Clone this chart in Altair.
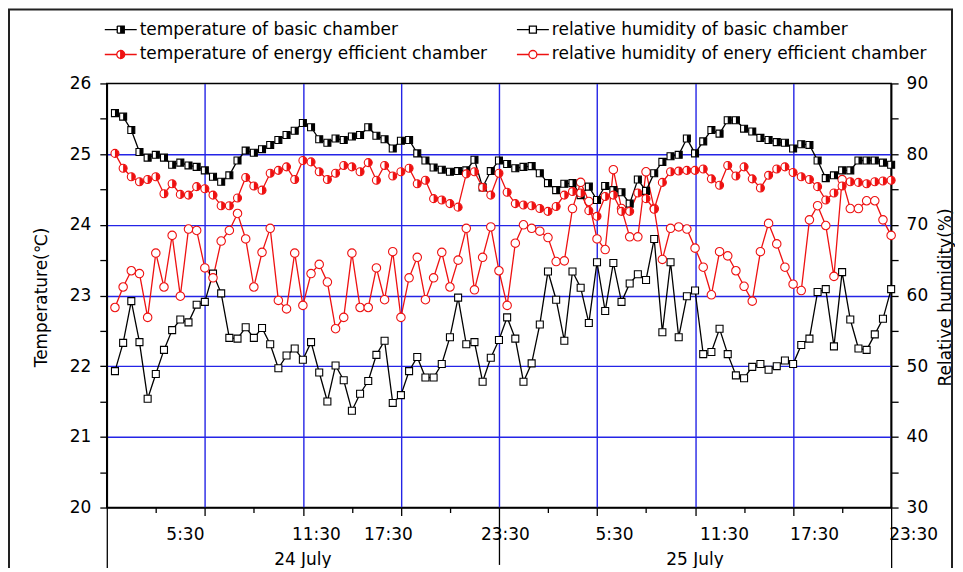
import math
import altair as alt
import pandas as pd

# ---------------- data ----------------
hours = [0.5 * i for i in range(96)]  # 0:00 24 July ... 23:30 25 July, every 30 min

temp_basic = [
    25.58, 25.53, 25.34, 25.03, 24.95, 24.99, 24.95, 24.85, 24.88, 24.84,
    24.82, 24.77, 24.68, 24.61, 24.70, 24.91, 25.05, 25.02, 25.07, 25.13,
    25.20, 25.27, 25.33, 25.44, 25.38, 25.21, 25.16, 25.22, 25.20, 25.25,
    25.27, 25.38, 25.26, 25.21, 25.08, 25.19, 25.20, 25.01, 24.91, 24.81,
    24.78, 24.75, 24.76, 24.77, 24.92, 24.53, 24.76, 24.91, 24.86, 24.80,
    24.82, 24.83, 24.73, 24.59, 24.49, 24.58, 24.59, 24.42, 24.54, 24.35,
    24.55, 24.49, 24.46, 24.30, 24.64, 24.48, 24.73, 24.89, 24.97, 24.99,
    25.22, 25.01, 25.18, 25.34, 25.29, 25.48, 25.48, 25.36, 25.32, 25.23,
    25.20, 25.17, 25.16, 25.08, 25.14, 25.13, 24.91, 24.66, 24.70, 24.77,
    24.77, 24.91, 24.91, 24.91, 24.88, 24.85,
]
temp_eff = [
    25.01, 24.80, 24.68, 24.61, 24.64, 24.68, 24.44, 24.58, 24.43, 24.42,
    24.54, 24.51, 24.42, 24.27, 24.27, 24.38, 24.67, 24.55, 24.49, 24.73,
    24.77, 24.82, 24.64, 24.91, 24.89, 24.75, 24.64, 24.73, 24.84, 24.82,
    24.75, 24.88, 24.63, 24.84, 24.69, 24.75, 24.80, 24.58, 24.63, 24.37,
    24.35, 24.30, 24.25, 24.72, 24.75, 24.53, 24.42, 24.73, 24.46, 24.30,
    24.28, 24.27, 24.23, 24.19, 24.26, 24.42, 24.47, 24.45, 24.20, 24.12,
    24.40, 24.42, 24.19, 24.19, 24.45, 24.37, 24.22, 24.60, 24.75, 24.76,
    24.77, 24.77, 24.79, 24.65, 24.56, 24.84, 24.69, 24.82, 24.65, 24.52,
    24.70, 24.79, 24.82, 24.74, 24.68, 24.64, 24.54, 24.35, 24.45, 24.55,
    24.61, 24.60, 24.58, 24.61, 24.62, 24.63,
]
rh_basic = [
    49.3, 53.3, 59.2, 53.4, 45.4, 48.9, 52.3, 55.1, 56.6, 56.2,
    58.7, 59.1, 63.1, 60.3, 54.0, 53.9, 55.5, 54.0, 55.4, 53.1,
    49.7, 51.5, 52.5, 50.9, 53.4, 49.1, 45.0, 50.1, 48.0, 43.7,
    46.1, 47.9, 51.6, 53.6, 44.8, 45.9, 49.3, 51.3, 48.4, 48.4,
    50.3, 54.1, 59.7, 53.1, 53.4, 47.8, 51.2, 53.7, 56.9, 53.9,
    47.8, 50.4, 55.9, 63.4, 59.4, 53.6, 63.4, 61.1, 56.1, 64.7,
    57.8, 64.6, 59.1, 61.7, 63.0, 62.2, 68.0, 54.8, 64.7, 54.1,
    59.9, 60.7, 51.7, 52.0, 55.3, 51.7, 48.7, 48.3, 49.9, 50.3,
    49.5, 50.0, 50.8, 50.3, 53.0, 53.9, 60.5, 60.9, 52.8, 63.3,
    56.6, 52.5, 52.3, 54.5, 56.7, 60.9,
]
rh_eff = [
    58.3, 61.2, 63.5, 63.1, 56.9, 66.0, 61.2, 68.5, 59.9, 69.4,
    69.2, 63.9, 62.5, 67.7, 69.2, 71.6, 68.0, 61.2, 66.1, 69.5,
    59.3, 58.1, 66.0, 58.6, 63.1, 64.4, 61.9, 55.3, 56.9, 66.0,
    58.3, 58.3, 63.9, 59.4, 66.2, 56.9, 62.5, 65.4, 59.4, 62.5,
    66.1, 61.2, 65.0, 69.5, 60.8, 65.4, 69.7, 63.5, 58.6, 67.4,
    70.0, 69.5, 69.1, 68.2, 64.8, 64.9, 72.3, 76.0, 73.3, 68.0,
    66.5, 77.8, 72.3, 68.3, 68.3, 77.5, 72.3, 65.1, 69.5, 69.7,
    69.4, 66.7, 64.0, 60.1, 66.2, 65.6, 63.5, 61.3, 59.2, 66.2,
    70.2, 67.3, 64.0, 61.6, 60.7, 70.7, 72.7, 69.9, 62.7, 76.4,
    72.3, 72.3, 73.4, 73.4, 70.7, 68.5,
]
for s in (temp_basic, temp_eff, rh_basic, rh_eff):
    assert len(s) == len(hours)

# legend order (column-major in a 2-column legend)
series_names = [
    "temperature of basic chamber",
    "temperature of energy efficient chamber",
    "relative humidity of basic chamber",
    "relative humidity of enery efficient chamber",
]
x_tick_hours = [5.5, 11.5, 17.5, 23.5, 29.5, 35.5, 41.5, 47.5]
x_tick_labels = ["5:30", "11:30", "17:30", "23:30", "5:30", "11:30", "17:30", "23:30"]
x_minor_hours = [2.5, 8.5, 14.5, 20.5, 26.5, 32.5, 38.5, 44.5]
day_labels = ["24 July", "25 July"]
day_centers = [11.5, 35.5]
day_boundaries = [-0.5, 23.5, 47.5]

# ---------------- styles ----------------
FONT = "DejaVu Sans"
FS = 17
BLACK = "#000000"
RED = "#ee1111"
BLUE = "#2424e6"
W, H = 786, 425

x_label_shift = [-20, 13, -13, 6, 17, 29, 21, 22]   # irregular label placement of the original

df = pd.DataFrame({"hour": hours, "tb": temp_basic, "te": temp_eff,
                   "rb": rh_basic, "re": rh_eff})

xscale = alt.Scale(domain=[-0.5, 47.5], nice=False, zero=False)
tscale = alt.Scale(domain=[20, 26], nice=False, zero=False)
hscale = alt.Scale(domain=[30, 90], nice=False, zero=False)


def cond(pairs, default):
    return {"condition": [{"test": t, "value": v} for t, v in pairs], "value": default}


# x axis: major + minor ticks, long ticks at the day boundaries
x_values = sorted(day_boundaries[:1] + x_minor_hours + x_tick_hours)
label_expr = " : ".join(
    f"datum.value == {h} ? '{l}'" for h, l in zip(x_tick_hours, x_tick_labels)
) + " : ''"
bound_long = 64
mid_long = 57
x_axis = alt.Axis(
    values=x_values,
    labelExpr=label_expr,
    title=None,
    grid=True,
    gridColor=BLUE,
    gridWidth=1.4,
    gridOpacity=cond(
        [("datum.value % 6 != 5.5 || datum.value == 47.5", 0)], 1),
    tickSize=cond([
        (f"datum.value == {day_boundaries[0]}", bound_long),
        (f"datum.value == {day_boundaries[2]}", bound_long),
        (f"datum.value == {day_boundaries[1]}", mid_long),
        ("datum.value % 6 == 5.5", 8),
    ], 5),
    labelPadding=cond([
        (f"datum.value == {day_boundaries[2]}", 11 + 8 - bound_long),
        (f"datum.value == {day_boundaries[1]}", 11 + 8 - mid_long),
    ], 11),
    labelOffset=cond([(f"datum.value == {h}", s) for h, s in zip(x_tick_hours, x_label_shift)], 0),
    tickColor=BLACK,
    tickWidth=1.3,
    domainColor=BLACK,
    domainWidth=1.6,
    labelFont=FONT,
    labelFontSize=FS,
    labelColor=BLACK,
    labelOverlap=False,
    labelFlush=False,
)

t_axis = alt.Axis(
    orient="left",
    values=[20 + 0.5 * k for k in range(13)],
    labelExpr="datum.value % 1 == 0 ? format(datum.value, 'd') : ''",
    grid=True,
    gridColor=BLUE,
    gridWidth=1.4,
    gridOpacity=cond([("datum.value % 1 != 0 || datum.value == 20 || datum.value == 26", 0)], 1),
    tickSize=7,
    tickColor=BLACK,
    tickWidth=1.3,
    domainColor=BLACK,
    domainWidth=1.6,
    labelPadding=9,
    labelFont=FONT,
    labelFontSize=FS,
    labelColor=BLACK,
    labelOverlap=False,
    title="Temperature(℃)",
    titleFont=FONT,
    titleFontSize=FS,
    titleFontWeight="normal",
    titleColor=BLACK,
    titleAngle=270,
    titleAlign="center",
    titleBaseline="middle",
    titleX=-65,
    titleY=214,
)

h_axis = alt.Axis(
    orient="right",
    values=[30 + 5 * k for k in range(13)],
    labelExpr="datum.value % 10 == 0 ? format(datum.value, 'd') : ''",
    grid=False,
    tickSize=7,
    tickColor=BLACK,
    tickWidth=1.3,
    domainColor=BLACK,
    domainWidth=1.6,
    labelPadding=8,
    labelFont=FONT,
    labelFontSize=FS,
    labelColor=BLACK,
    labelOverlap=False,
    title="Relative humidity(%)",
    titleFont=FONT,
    titleFontSize=FS,
    titleFontWeight="normal",
    titleColor=BLACK,
    titleAngle=270,
    titleAlign="center",
    titleBaseline="middle",
    titleX=54,
    titleY=214,
)

# marker paths (unit box [-1, 1])
SQ = "M-1,-1L1,-1L1,1L-1,1Z"
SQ_R = "M0,-1L1,-1L1,1L0,1Z"
CI = "M-1,0A1,1 0 1,0 1,0A1,1 0 1,0 -1,0Z"
CI_R = "M0,-1A1,1 0 0,1 0,1Z"

base = alt.Chart(df)
X = alt.X("hour:Q", scale=xscale, axis=x_axis)


def YT(field):
    return alt.Y(f"{field}:Q", scale=tscale, axis=t_axis)


def YH(field):
    return alt.Y(f"{field}:Q", scale=hscale, axis=h_axis)


def line(color, y):
    return base.mark_line(color=color, strokeWidth=1.3).encode(x=X, y=y)


def open_pts(shape, size, color, y):
    return base.mark_point(shape=shape, size=size, filled=True, fill="white",
                           stroke=color, strokeWidth=1.1, opacity=1).encode(x=X, y=y)


def half_pts(shape, size, color, y):
    return base.mark_point(shape=shape, size=size, filled=True, fill=color,
                           strokeWidth=0, opacity=1).encode(x=X, y=y)


temp_group = alt.layer(
    line(BLACK, YT("tb")),
    line(RED, YT("te")),
    open_pts(SQ, 49, BLACK, YT("tb")),
    half_pts(SQ_R, 49, BLACK, YT("tb")),
    open_pts(CI, 64, RED, YT("te")),
    half_pts(CI_R, 64, RED, YT("te")),
)

rh_group = alt.layer(
    line(BLACK, YH("rb")),
    line(RED, YH("re")),
    open_pts(SQ, 49, BLACK, YH("rb")),
    open_pts(CI, 72, RED, YH("re")),
)

# ---------------- legend (built by the library from the scales) ----------------
def seg_semicircle(r, n=8):
    out = []
    for k in range(n):
        a1 = math.pi / 2 + math.pi * k / n
        a2 = math.pi / 2 + math.pi * (k + 1) / n
        out.append(f"M{r*math.cos(a1):.3f},{r*math.sin(a1):.3f}L{r*math.cos(a2):.3f},{r*math.sin(a2):.3f}")
    return "".join(out)


s, c = 0.22, 0.25
LG_TB = (f"M-1,0L{-s},0M{s},0L1,0M0,{-s}L{-s},{-s}M{-s},{-s}L{-s},{s}M{-s},{s}L0,{s}"
         f"M0,{-s}L{s},{-s}L{s},{s}L0,{s}Z")
LG_RB = f"M-1,0L{-s},0M{s},0L1,0M{-s},{-s}L{s},{-s}L{s},{s}L{-s},{s}Z"
LG_TE = (f"M-1,0L{-c},0M{c},0L1,0" + seg_semicircle(c) +
         f"M0,{-c}A{c},{c} 0 0,1 0,{c}Z")
LG_RE = f"M-1,0L{-c},0M{c},0L1,0M{-c},0A{c},{c} 0 1,0 {c},0A{c},{c} 0 1,0 {-c},0Z"

legend = alt.Legend(
    title=None, orient="none", legendX=-3, legendY=-71, columns=2,
    columnPadding=26, rowPadding=-3, padding=0, gridAlign="each",
    symbolSize=1024, symbolStrokeWidth=1.3, symbolOffset=0,
    labelFont=FONT, labelFontSize=FS, labelColor=BLACK, labelLimit=1000,
    labelOffset=2,
)
legend_df = pd.DataFrame({"series": series_names})
legend_layer = alt.Chart(legend_df).transform_filter("false").mark_point(
    filled=True, opacity=1).encode(
    stroke=alt.Stroke("series:N", scale=alt.Scale(domain=series_names,
                      range=[BLACK, RED, BLACK, RED]), legend=legend),
    fill=alt.Fill("series:N", scale=alt.Scale(domain=series_names,
                  range=[BLACK, RED, "white", "white"]), legend=legend),
    shape=alt.Shape("series:N", scale=alt.Scale(domain=series_names,
                    range=[LG_TB, LG_TE, LG_RB, LG_RE]), legend=legend),
)

day_df = pd.DataFrame({"day": day_labels, "center": day_centers})
day_layer = alt.Chart(day_df).mark_text(
    font=FONT, fontSize=FS, color=BLACK, baseline="middle", align="center").encode(
    x=alt.X("center:Q", scale=xscale, axis=x_axis),
    y=alt.value(H + 53),
    text="day:N",
)

frame = alt.Chart(pd.DataFrame({"k": [0]})).mark_rect(
    fill="transparent", stroke="#222222", strokeWidth=2).encode(
    x=alt.value(-98), x2=alt.value(847), y=alt.value(-74), y2=alt.value(H + 120))

chart = alt.layer(frame, rh_group, temp_group, legend_layer, day_layer).resolve_scale(
    y="independent"
).properties(
    width=W, height=H,
    autosize=alt.AutoSizeParams(type="none"),
    padding={"left": 99, "top": 75, "right": 64, "bottom": 60},
).configure(font=FONT, background="white").configure_view(
    stroke=BLACK, strokeWidth=1.6)

chart.save("out.html", embed_options={"renderer": "svg", "actions": False})
